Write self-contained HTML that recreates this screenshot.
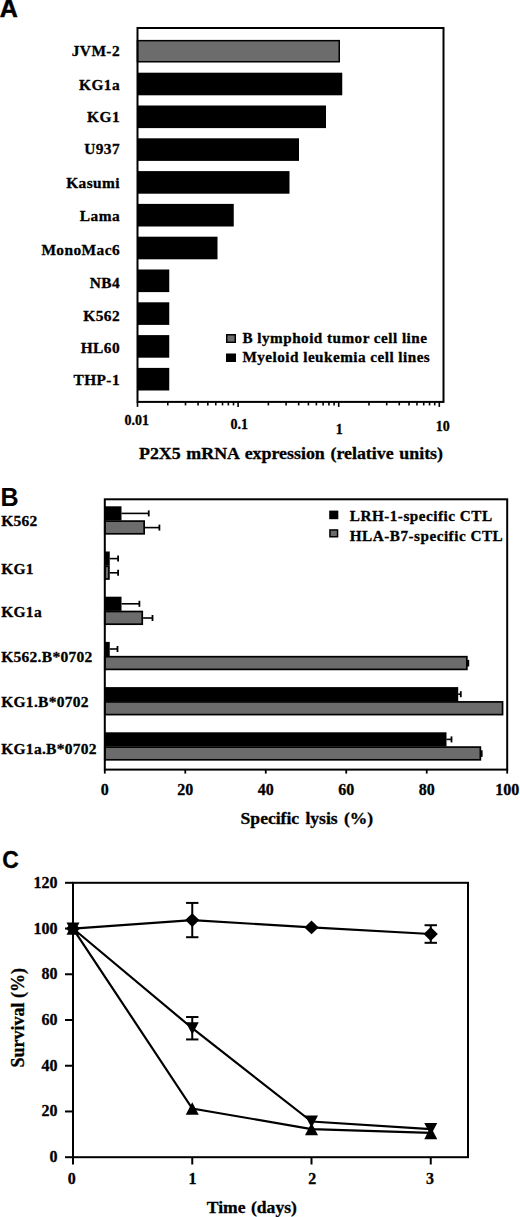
<!DOCTYPE html>
<html><head><meta charset="utf-8"><style>
html,body{margin:0;padding:0;background:#fff;}
body{width:520px;height:1217px;overflow:hidden;font-family:"Liberation Serif",serif;}
svg{display:block;}
</style></head><body>
<svg width="520" height="1217" viewBox="0 0 520 1217">
<rect width="520" height="1217" fill="#fff"/>
<text x="-0.3" y="17.4" font-family="Liberation Sans" font-weight="bold" font-size="25" stroke="#000" stroke-width="0.5">A</text>
<rect x="137.5" y="40.65" width="201.75" height="21.10" fill="#6c6c6c" stroke="#000" stroke-width="1.5"/>
<rect x="137.5" y="72.70" width="204.75" height="22.6" fill="#000"/>
<rect x="137.5" y="105.50" width="188.50" height="22.6" fill="#000"/>
<rect x="137.5" y="138.30" width="161.50" height="22.6" fill="#000"/>
<rect x="137.5" y="171.10" width="152.00" height="22.6" fill="#000"/>
<rect x="137.5" y="203.90" width="96.25" height="22.6" fill="#000"/>
<rect x="137.5" y="236.70" width="80.00" height="22.6" fill="#000"/>
<rect x="137.5" y="269.50" width="31.75" height="22.6" fill="#000"/>
<rect x="137.5" y="302.30" width="31.75" height="22.6" fill="#000"/>
<rect x="137.5" y="335.10" width="31.75" height="22.6" fill="#000"/>
<rect x="137.5" y="367.90" width="31.75" height="22.6" fill="#000"/>
<rect x="137.5" y="28.0" width="306.0" height="373.9" fill="none" stroke="#000" stroke-width="2"/>
<line x1="137.50" y1="401.9" x2="137.50" y2="406.9" stroke="#000" stroke-width="1.6"/>
<line x1="167.78" y1="401.9" x2="167.78" y2="405.4" stroke="#000" stroke-width="1.6"/>
<line x1="185.50" y1="401.9" x2="185.50" y2="405.4" stroke="#000" stroke-width="1.6"/>
<line x1="198.07" y1="401.9" x2="198.07" y2="405.4" stroke="#000" stroke-width="1.6"/>
<line x1="207.82" y1="401.9" x2="207.82" y2="405.4" stroke="#000" stroke-width="1.6"/>
<line x1="215.78" y1="401.9" x2="215.78" y2="405.4" stroke="#000" stroke-width="1.6"/>
<line x1="222.52" y1="401.9" x2="222.52" y2="405.4" stroke="#000" stroke-width="1.6"/>
<line x1="228.35" y1="401.9" x2="228.35" y2="405.4" stroke="#000" stroke-width="1.6"/>
<line x1="233.50" y1="401.9" x2="233.50" y2="405.4" stroke="#000" stroke-width="1.6"/>
<line x1="238.10" y1="401.9" x2="238.10" y2="406.9" stroke="#000" stroke-width="1.6"/>
<line x1="268.38" y1="401.9" x2="268.38" y2="405.4" stroke="#000" stroke-width="1.6"/>
<line x1="286.10" y1="401.9" x2="286.10" y2="405.4" stroke="#000" stroke-width="1.6"/>
<line x1="298.67" y1="401.9" x2="298.67" y2="405.4" stroke="#000" stroke-width="1.6"/>
<line x1="308.42" y1="401.9" x2="308.42" y2="405.4" stroke="#000" stroke-width="1.6"/>
<line x1="316.38" y1="401.9" x2="316.38" y2="405.4" stroke="#000" stroke-width="1.6"/>
<line x1="323.12" y1="401.9" x2="323.12" y2="405.4" stroke="#000" stroke-width="1.6"/>
<line x1="328.95" y1="401.9" x2="328.95" y2="405.4" stroke="#000" stroke-width="1.6"/>
<line x1="334.10" y1="401.9" x2="334.10" y2="405.4" stroke="#000" stroke-width="1.6"/>
<line x1="338.70" y1="401.9" x2="338.70" y2="406.9" stroke="#000" stroke-width="1.6"/>
<line x1="368.98" y1="401.9" x2="368.98" y2="405.4" stroke="#000" stroke-width="1.6"/>
<line x1="386.70" y1="401.9" x2="386.70" y2="405.4" stroke="#000" stroke-width="1.6"/>
<line x1="399.27" y1="401.9" x2="399.27" y2="405.4" stroke="#000" stroke-width="1.6"/>
<line x1="409.02" y1="401.9" x2="409.02" y2="405.4" stroke="#000" stroke-width="1.6"/>
<line x1="416.98" y1="401.9" x2="416.98" y2="405.4" stroke="#000" stroke-width="1.6"/>
<line x1="423.72" y1="401.9" x2="423.72" y2="405.4" stroke="#000" stroke-width="1.6"/>
<line x1="429.55" y1="401.9" x2="429.55" y2="405.4" stroke="#000" stroke-width="1.6"/>
<line x1="434.70" y1="401.9" x2="434.70" y2="405.4" stroke="#000" stroke-width="1.6"/>
<line x1="439.30" y1="401.9" x2="439.30" y2="406.9" stroke="#000" stroke-width="1.6"/>
<text x="136.75" y="424.9" font-family="Liberation Serif" font-weight="bold" stroke="#000" stroke-width="0.3" font-size="14" text-anchor="middle">0.01</text>
<text x="239.25" y="428.6" font-family="Liberation Serif" font-weight="bold" stroke="#000" stroke-width="0.3" font-size="14" text-anchor="middle">0.1</text>
<text x="339.2" y="433.75" font-family="Liberation Serif" font-weight="bold" stroke="#000" stroke-width="0.3" font-size="14" text-anchor="middle">1</text>
<text x="442.8" y="430.75" font-family="Liberation Serif" font-weight="bold" stroke="#000" stroke-width="0.3" font-size="14" text-anchor="middle">10</text>
<text transform="translate(139.00,459.40) scale(1.0650,1)" font-family="Liberation Serif" font-weight="bold" stroke="#000" stroke-width="0.3" font-size="16.8" text-anchor="start" word-spacing="1.1">P2X5 mRNA expression (relative units)</text>
<text x="120.02" y="55.8" font-family="Liberation Serif" font-weight="bold" stroke="#000" stroke-width="0.3" font-size="15.4" letter-spacing="0.42" text-anchor="end">JVM-2</text>
<text x="120.02" y="90" font-family="Liberation Serif" font-weight="bold" stroke="#000" stroke-width="0.3" font-size="15.4" letter-spacing="0.42" text-anchor="end">KG1a</text>
<text x="120.02" y="122.1" font-family="Liberation Serif" font-weight="bold" stroke="#000" stroke-width="0.3" font-size="15.4" letter-spacing="0.42" text-anchor="end">KG1</text>
<text x="120.02" y="154.2" font-family="Liberation Serif" font-weight="bold" stroke="#000" stroke-width="0.3" font-size="15.4" letter-spacing="0.42" text-anchor="end">U937</text>
<text x="120.02" y="187.7" font-family="Liberation Serif" font-weight="bold" stroke="#000" stroke-width="0.3" font-size="15.4" letter-spacing="0.42" text-anchor="end">Kasumi</text>
<text x="120.02" y="221.2" font-family="Liberation Serif" font-weight="bold" stroke="#000" stroke-width="0.3" font-size="15.4" letter-spacing="0.42" text-anchor="end">Lama</text>
<text x="120.02" y="255" font-family="Liberation Serif" font-weight="bold" stroke="#000" stroke-width="0.3" font-size="15.4" letter-spacing="0.42" text-anchor="end">MonoMac6</text>
<text x="120.02" y="287.7" font-family="Liberation Serif" font-weight="bold" stroke="#000" stroke-width="0.3" font-size="15.4" letter-spacing="0.42" text-anchor="end">NB4</text>
<text x="120.02" y="321" font-family="Liberation Serif" font-weight="bold" stroke="#000" stroke-width="0.3" font-size="15.4" letter-spacing="0.42" text-anchor="end">K562</text>
<text x="120.02" y="353.1" font-family="Liberation Serif" font-weight="bold" stroke="#000" stroke-width="0.3" font-size="15.4" letter-spacing="0.42" text-anchor="end">HL60</text>
<text x="120.02" y="385.4" font-family="Liberation Serif" font-weight="bold" stroke="#000" stroke-width="0.3" font-size="15.4" letter-spacing="0.42" text-anchor="end">THP-1</text>
<rect x="226.75" y="334.75" width="8.5" height="7.5" fill="#6c6c6c" stroke="#000" stroke-width="1.5"/>
<rect x="226" y="353.5" width="10" height="8.5" fill="#000"/>
<text x="242.5" y="342.6" font-family="Liberation Serif" font-weight="bold" stroke="#000" stroke-width="0.3" font-size="15.2" letter-spacing="0.47">B lymphoid tumor cell line</text>
<text x="242.5" y="362" font-family="Liberation Serif" font-weight="bold" stroke="#000" stroke-width="0.3" font-size="15.2" letter-spacing="0.47">Myeloid leukemia cell lines</text>
<text x="0.6" y="505.7" font-family="Liberation Sans" font-weight="bold" font-size="25.1">B</text>
<rect x="104.8" y="506.30" width="16.70" height="14.2" fill="#000"/>
<rect x="104.8" y="521.10" width="39.35" height="12.70" fill="#6c6c6c" stroke="#000" stroke-width="1.7"/>
<line x1="121.50" y1="513.40" x2="148.75" y2="513.40" stroke="#000" stroke-width="1.6"/>
<line x1="148.75" y1="510.40" x2="148.75" y2="516.40" stroke="#000" stroke-width="1.8"/>
<line x1="145.00" y1="527.60" x2="159.40" y2="527.60" stroke="#000" stroke-width="1.6"/>
<line x1="159.40" y1="524.60" x2="159.40" y2="530.60" stroke="#000" stroke-width="1.8"/>
<rect x="104.8" y="551.50" width="4.95" height="14.2" fill="#000"/>
<rect x="104.8" y="566.30" width="4.10" height="12.70" fill="#6c6c6c" stroke="#000" stroke-width="1.7"/>
<line x1="109.75" y1="558.60" x2="118.10" y2="558.60" stroke="#000" stroke-width="1.6"/>
<line x1="118.10" y1="555.60" x2="118.10" y2="561.60" stroke="#000" stroke-width="1.8"/>
<line x1="109.75" y1="572.80" x2="118.10" y2="572.80" stroke="#000" stroke-width="1.6"/>
<line x1="118.10" y1="569.80" x2="118.10" y2="575.80" stroke="#000" stroke-width="1.8"/>
<rect x="104.8" y="596.70" width="16.70" height="14.2" fill="#000"/>
<rect x="104.8" y="611.50" width="37.45" height="12.70" fill="#6c6c6c" stroke="#000" stroke-width="1.7"/>
<line x1="121.50" y1="603.80" x2="139.40" y2="603.80" stroke="#000" stroke-width="1.6"/>
<line x1="139.40" y1="600.80" x2="139.40" y2="606.80" stroke="#000" stroke-width="1.8"/>
<line x1="143.10" y1="618.00" x2="152.50" y2="618.00" stroke="#000" stroke-width="1.6"/>
<line x1="152.50" y1="615.00" x2="152.50" y2="621.00" stroke="#000" stroke-width="1.8"/>
<rect x="104.8" y="641.90" width="4.95" height="14.2" fill="#000"/>
<rect x="104.8" y="656.70" width="362.05" height="12.70" fill="#6c6c6c" stroke="#000" stroke-width="1.7"/>
<line x1="109.75" y1="649.00" x2="117.50" y2="649.00" stroke="#000" stroke-width="1.6"/>
<line x1="117.50" y1="646.00" x2="117.50" y2="652.00" stroke="#000" stroke-width="1.8"/>
<line x1="468.10" y1="659.90" x2="468.10" y2="666.50" stroke="#000" stroke-width="2.2"/>
<rect x="104.8" y="687.10" width="353.40" height="14.2" fill="#000"/>
<rect x="104.8" y="701.90" width="397.75" height="12.70" fill="#6c6c6c" stroke="#000" stroke-width="1.7"/>
<line x1="458.20" y1="694.20" x2="460.80" y2="694.20" stroke="#000" stroke-width="1.6"/>
<line x1="460.80" y1="691.20" x2="460.80" y2="697.20" stroke="#000" stroke-width="1.8"/>
<rect x="104.8" y="732.30" width="341.70" height="14.2" fill="#000"/>
<rect x="104.8" y="747.10" width="375.55" height="12.70" fill="#6c6c6c" stroke="#000" stroke-width="1.7"/>
<line x1="446.50" y1="739.40" x2="451.50" y2="739.40" stroke="#000" stroke-width="1.6"/>
<line x1="451.50" y1="736.40" x2="451.50" y2="742.40" stroke="#000" stroke-width="1.8"/>
<line x1="481.50" y1="750.30" x2="481.50" y2="756.90" stroke="#000" stroke-width="2.2"/>
<rect x="104.8" y="499.3" width="402.40" height="270.30" fill="none" stroke="#000" stroke-width="2"/>
<line x1="104.80" y1="769.6" x2="104.80" y2="773.6" stroke="#000" stroke-width="1.8"/>
<text x="104.80" y="795.0" font-family="Liberation Serif" font-weight="bold" stroke="#000" stroke-width="0.3" font-size="16" text-anchor="middle">0</text>
<line x1="185.28" y1="769.6" x2="185.28" y2="773.6" stroke="#000" stroke-width="1.8"/>
<text x="185.28" y="795.0" font-family="Liberation Serif" font-weight="bold" stroke="#000" stroke-width="0.3" font-size="16" text-anchor="middle">20</text>
<line x1="265.76" y1="769.6" x2="265.76" y2="773.6" stroke="#000" stroke-width="1.8"/>
<text x="265.76" y="795.0" font-family="Liberation Serif" font-weight="bold" stroke="#000" stroke-width="0.3" font-size="16" text-anchor="middle">40</text>
<line x1="346.24" y1="769.6" x2="346.24" y2="773.6" stroke="#000" stroke-width="1.8"/>
<text x="346.24" y="795.0" font-family="Liberation Serif" font-weight="bold" stroke="#000" stroke-width="0.3" font-size="16" text-anchor="middle">60</text>
<line x1="426.72" y1="769.6" x2="426.72" y2="773.6" stroke="#000" stroke-width="1.8"/>
<text x="426.72" y="795.0" font-family="Liberation Serif" font-weight="bold" stroke="#000" stroke-width="0.3" font-size="16" text-anchor="middle">80</text>
<line x1="507.20" y1="769.6" x2="507.20" y2="773.6" stroke="#000" stroke-width="1.8"/>
<text x="507.20" y="795.0" font-family="Liberation Serif" font-weight="bold" stroke="#000" stroke-width="0.3" font-size="16" text-anchor="middle">100</text>
<text transform="translate(240.60,823.80) scale(1.0650,1)" font-family="Liberation Serif" font-weight="bold" stroke="#000" stroke-width="0.3" font-size="16.5" text-anchor="start" word-spacing="1.8">Specific lysis (%)</text>
<text x="1.2" y="526.2" font-family="Liberation Serif" font-weight="bold" stroke="#000" stroke-width="0.3" font-size="15.5" letter-spacing="0.28">K562</text>
<text x="1.2" y="573.8" font-family="Liberation Serif" font-weight="bold" stroke="#000" stroke-width="0.3" font-size="15.5" letter-spacing="0.28">KG1</text>
<text x="1.2" y="617.3" font-family="Liberation Serif" font-weight="bold" stroke="#000" stroke-width="0.3" font-size="15.5" letter-spacing="0.28">KG1a</text>
<text x="1.2" y="662.1" font-family="Liberation Serif" font-weight="bold" stroke="#000" stroke-width="0.3" font-size="15.5" letter-spacing="0.28">K562.B*0702</text>
<text x="1.2" y="707.3" font-family="Liberation Serif" font-weight="bold" stroke="#000" stroke-width="0.3" font-size="15.5" letter-spacing="0.28">KG1.B*0702</text>
<text x="1.2" y="753.5" font-family="Liberation Serif" font-weight="bold" stroke="#000" stroke-width="0.3" font-size="15.5" letter-spacing="0.28">KG1a.B*0702</text>
<rect x="329.2" y="510.6" width="9.1" height="8.6" fill="#000"/>
<rect x="329.95" y="529.95" width="7.6" height="6.8" fill="#6c6c6c" stroke="#000" stroke-width="1.5"/>
<text x="349.8" y="521.4" font-family="Liberation Serif" font-weight="bold" stroke="#000" stroke-width="0.3" font-size="15.2" letter-spacing="0.5">LRH-1-specific CTL</text>
<text x="349.8" y="540.6" font-family="Liberation Serif" font-weight="bold" stroke="#000" stroke-width="0.3" font-size="15.2" letter-spacing="0.5">HLA-B7-specific CTL</text>
<text transform="translate(2.30,867.90) scale(0.9250,1)" font-family="Liberation Sans" font-weight="bold" font-size="24.8" text-anchor="start" stroke="#000" stroke-width="0.3">C</text>
<rect x="73.0" y="882.8" width="395.0" height="274.40" fill="none" stroke="#000" stroke-width="2"/>
<line x1="65.0" y1="1157.20" x2="73.0" y2="1157.20" stroke="#000" stroke-width="2"/>
<text x="57.6" y="1162.20" font-family="Liberation Serif" font-weight="bold" stroke="#000" stroke-width="0.3" font-size="16" text-anchor="end">0</text>
<line x1="65.0" y1="1111.47" x2="73.0" y2="1111.47" stroke="#000" stroke-width="2"/>
<text x="57.6" y="1116.47" font-family="Liberation Serif" font-weight="bold" stroke="#000" stroke-width="0.3" font-size="16" text-anchor="end">20</text>
<line x1="65.0" y1="1065.73" x2="73.0" y2="1065.73" stroke="#000" stroke-width="2"/>
<text x="57.6" y="1070.73" font-family="Liberation Serif" font-weight="bold" stroke="#000" stroke-width="0.3" font-size="16" text-anchor="end">40</text>
<line x1="65.0" y1="1020.00" x2="73.0" y2="1020.00" stroke="#000" stroke-width="2"/>
<text x="57.6" y="1025.00" font-family="Liberation Serif" font-weight="bold" stroke="#000" stroke-width="0.3" font-size="16" text-anchor="end">60</text>
<line x1="65.0" y1="974.27" x2="73.0" y2="974.27" stroke="#000" stroke-width="2"/>
<text x="57.6" y="979.27" font-family="Liberation Serif" font-weight="bold" stroke="#000" stroke-width="0.3" font-size="16" text-anchor="end">80</text>
<line x1="65.0" y1="928.53" x2="73.0" y2="928.53" stroke="#000" stroke-width="2"/>
<text x="57.6" y="933.53" font-family="Liberation Serif" font-weight="bold" stroke="#000" stroke-width="0.3" font-size="16" text-anchor="end">100</text>
<line x1="65.0" y1="882.80" x2="73.0" y2="882.80" stroke="#000" stroke-width="2"/>
<text x="57.6" y="887.80" font-family="Liberation Serif" font-weight="bold" stroke="#000" stroke-width="0.3" font-size="16" text-anchor="end">120</text>
<line x1="73.00" y1="1157.2" x2="73.00" y2="1164.5" stroke="#000" stroke-width="2"/>
<text x="71.80" y="1183.8" font-family="Liberation Serif" font-weight="bold" stroke="#000" stroke-width="0.3" font-size="16" text-anchor="middle">0</text>
<line x1="192.25" y1="1157.2" x2="192.25" y2="1164.5" stroke="#000" stroke-width="2"/>
<text x="192.40" y="1183.8" font-family="Liberation Serif" font-weight="bold" stroke="#000" stroke-width="0.3" font-size="16" text-anchor="middle">1</text>
<line x1="311.50" y1="1157.2" x2="311.50" y2="1164.5" stroke="#000" stroke-width="2"/>
<text x="312.30" y="1183.8" font-family="Liberation Serif" font-weight="bold" stroke="#000" stroke-width="0.3" font-size="16" text-anchor="middle">2</text>
<line x1="430.75" y1="1157.2" x2="430.75" y2="1164.5" stroke="#000" stroke-width="2"/>
<text x="430.00" y="1183.8" font-family="Liberation Serif" font-weight="bold" stroke="#000" stroke-width="0.3" font-size="16" text-anchor="middle">3</text>
<text transform="translate(206.80,1212.90) scale(1.0850,1)" font-family="Liberation Serif" font-weight="bold" stroke="#000" stroke-width="0.3" font-size="16.2" text-anchor="start" word-spacing="1.0">Time (days)</text>
<text transform="translate(24.3,1017.7) rotate(-90)" font-family="Liberation Serif" font-weight="bold" stroke="#000" stroke-width="0.3" font-size="18" text-anchor="middle">Survival (%)</text>
<polyline points="73.00,928.53 192.25,920.07 311.50,927.39 430.75,934.02" fill="none" stroke="#000" stroke-width="2.2"/>
<polyline points="73.00,928.53 192.25,1028.23 311.50,1121.53 430.75,1129.07" fill="none" stroke="#000" stroke-width="2.2"/>
<polyline points="73.00,928.53 192.25,1108.49 311.50,1129.07 430.75,1132.96" fill="none" stroke="#000" stroke-width="2.2"/>
<line x1="192.25" y1="902.92" x2="192.25" y2="937.22" stroke="#000" stroke-width="2"/>
<line x1="186.05" y1="902.92" x2="198.45" y2="902.92" stroke="#000" stroke-width="2"/>
<line x1="186.05" y1="937.22" x2="198.45" y2="937.22" stroke="#000" stroke-width="2"/>
<line x1="430.75" y1="925.22" x2="430.75" y2="942.82" stroke="#000" stroke-width="2"/>
<line x1="424.55" y1="925.22" x2="436.95" y2="925.22" stroke="#000" stroke-width="2"/>
<line x1="424.55" y1="942.82" x2="436.95" y2="942.82" stroke="#000" stroke-width="2"/>
<line x1="192.25" y1="1017.03" x2="192.25" y2="1039.44" stroke="#000" stroke-width="2"/>
<line x1="186.05" y1="1017.03" x2="198.45" y2="1017.03" stroke="#000" stroke-width="2"/>
<line x1="186.05" y1="1039.44" x2="198.45" y2="1039.44" stroke="#000" stroke-width="2"/>
<polygon points="73.00,921.63 80.10,928.53 73.00,935.43 65.90,928.53" fill="#000"/>
<polygon points="192.25,913.17 199.35,920.07 192.25,926.97 185.15,920.07" fill="#000"/>
<polygon points="311.50,920.49 318.60,927.39 311.50,934.29 304.40,927.39" fill="#000"/>
<polygon points="430.75,927.12 437.85,934.02 430.75,940.92 423.65,934.02" fill="#000"/>
<polygon points="66.50,922.53 79.50,922.53 73.00,934.83" fill="#000"/>
<polygon points="185.75,1022.23 198.75,1022.23 192.25,1034.53" fill="#000"/>
<polygon points="305.00,1115.53 318.00,1115.53 311.50,1127.83" fill="#000"/>
<polygon points="424.25,1123.07 437.25,1123.07 430.75,1135.37" fill="#000"/>
<polygon points="66.50,934.83 79.50,934.83 73.00,922.33" fill="#000"/>
<polygon points="185.75,1114.79 198.75,1114.79 192.25,1102.29" fill="#000"/>
<polygon points="305.00,1135.37 318.00,1135.37 311.50,1122.87" fill="#000"/>
<polygon points="424.25,1139.26 437.25,1139.26 430.75,1126.76" fill="#000"/>
</svg>
</body></html>
